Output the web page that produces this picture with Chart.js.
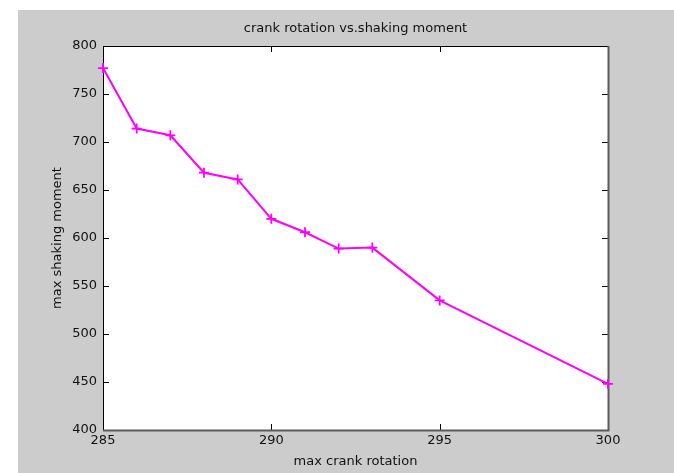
<!DOCTYPE html>
<html>
<head>
<meta charset="utf-8">
<script src="https://cdn.jsdelivr.net/npm/chart.js@4"></script>
<style>
  html, body { margin: 0; padding: 0; background: #ffffff; }
  #wrap { width: 674px; height: 473px; position: relative; }
</style>
</head>
<body>
<div id="wrap"><canvas id="c" width="674" height="473"></canvas></div>
<script>
// ---- data ----
const crankRotation = [285, 286, 287, 288, 289, 290, 291, 292, 293, 295, 300];
const shakingMoment = [777, 714, 707, 668, 661, 620, 606, 589, 590, 535, 448];
const xTickValues = [285, 290, 295, 300];
const yTickValues = [400, 450, 500, 550, 600, 650, 700, 750, 800];
const titleText = 'crank rotation vs.shaking moment';
const xLabelText = 'max crank rotation';
const yLabelText = 'max shaking moment';

const FONT = "'DejaVu Sans', sans-serif";

const bgPlugin = {
  id: 'bg',
  beforeDraw(chart) {
    const ctx = chart.ctx, ca = chart.chartArea;
    ctx.save();
    ctx.fillStyle = '#ffffff';
    ctx.fillRect(0, 0, chart.width, chart.height);
    ctx.fillStyle = '#cccccc';
    ctx.fillRect(18, 10, chart.width - 18, chart.height - 10);
    ctx.fillStyle = '#ffffff';
    ctx.fillRect(ca.left, ca.top, ca.right - ca.left, ca.bottom - ca.top);
    ctx.restore();
  },
  beforeDatasetsDraw(chart) {
    const ctx = chart.ctx, ca = chart.chartArea;
    const xs = chart.scales.x, ys = chart.scales.y;
    const L = 6;
    ctx.save();
    ctx.lineWidth = 1;
    ctx.strokeStyle = '#000000';
    ctx.beginPath();
    xs.ticks.forEach(t => {
      const px = Math.round(xs.getPixelForValue(t.value)) + 0.5;
      ctx.moveTo(px, ca.top); ctx.lineTo(px, ca.top + L);
      ctx.moveTo(px, ca.bottom); ctx.lineTo(px, ca.bottom - L);
    });
    ys.ticks.forEach(t => {
      const py = Math.round(ys.getPixelForValue(t.value)) + 0.5;
      ctx.moveTo(ca.left, py); ctx.lineTo(ca.left + L, py);
      ctx.moveTo(ca.right, py); ctx.lineTo(ca.right - L, py);
    });
    ctx.stroke();
    // frame: dark left/top, grey bottom/right
    ctx.strokeStyle = '#000000';
    ctx.beginPath();
    ctx.moveTo(ca.left + 0.5, ca.bottom); ctx.lineTo(ca.left + 0.5, ca.top + 0.5); ctx.lineTo(ca.right, ca.top + 0.5);
    ctx.stroke();
    ctx.strokeStyle = '#5a5a5a';
    ctx.lineWidth = 2;
    ctx.beginPath();
    ctx.moveTo(ca.left, ca.bottom + 0.5); ctx.lineTo(ca.right + 0.5, ca.bottom + 0.5); ctx.lineTo(ca.right + 0.5, ca.top);
    ctx.stroke();
    ctx.restore();
  }
};

new Chart(document.getElementById('c'), {
  type: 'line',
  data: {
    datasets: [{
      data: crankRotation.map((x, i) => ({ x: x, y: shakingMoment[i] })),
      borderColor: '#ff00ff',
      backgroundColor: '#ff00ff',
      borderWidth: 2,
      pointStyle: 'cross',
      pointRadius: 5,
      pointBorderWidth: 1.8,
      pointBorderColor: '#ff00ff',
      fill: false,
      tension: 0,
      clip: 10
    }]
  },
  options: {
    responsive: false,
    animation: false,
    devicePixelRatio: 1,
    layout: { padding: { left: 0, top: 0, right: 66, bottom: 0 } },
    plugins: {
      legend: { display: false },
      tooltip: { enabled: false },
      title: {
        display: true,
        text: titleText,
        fullSize: false,
        color: '#111111',
        font: { family: FONT, size: 13, weight: 'normal' },
        padding: { top: 21, bottom: 9.4 }
      }
    },
    scales: {
      x: {
        type: 'linear',
        min: 285, max: 300,
        afterBuildTicks(scale) { scale.ticks = xTickValues.map(v => ({ value: v })); },
        afterFit(scale) { scale.height = 43; },
        grid: { display: true, drawOnChartArea: false, drawTicks: false, color: 'rgba(0,0,0,0)' },
        border: { display: false },
        ticks: { color: '#111111', font: { family: FONT, size: 13 }, padding: 3, maxRotation: 0, autoSkip: false },
        title: { display: true, text: xLabelText, color: '#111111', font: { family: FONT, size: 13 }, padding: { top: 0, bottom: 4 } }
      },
      y: {
        type: 'linear',
        min: 400, max: 800,
        afterBuildTicks(scale) { scale.ticks = yTickValues.map(v => ({ value: v })); },
        afterFit(scale) { scale.width = 103; },
        grid: { display: true, drawOnChartArea: false, drawTicks: false, color: 'rgba(0,0,0,0)' },
        border: { display: false },
        ticks: { color: '#111111', font: { family: FONT, size: 13 }, padding: 6, autoSkip: false },
        title: { display: true, text: yLabelText, color: '#111111', font: { family: FONT, size: 13 }, padding: { top: 50, bottom: 0 } }
      }
    }
  },
  plugins: [bgPlugin]
});
</script>
</body>
</html>
